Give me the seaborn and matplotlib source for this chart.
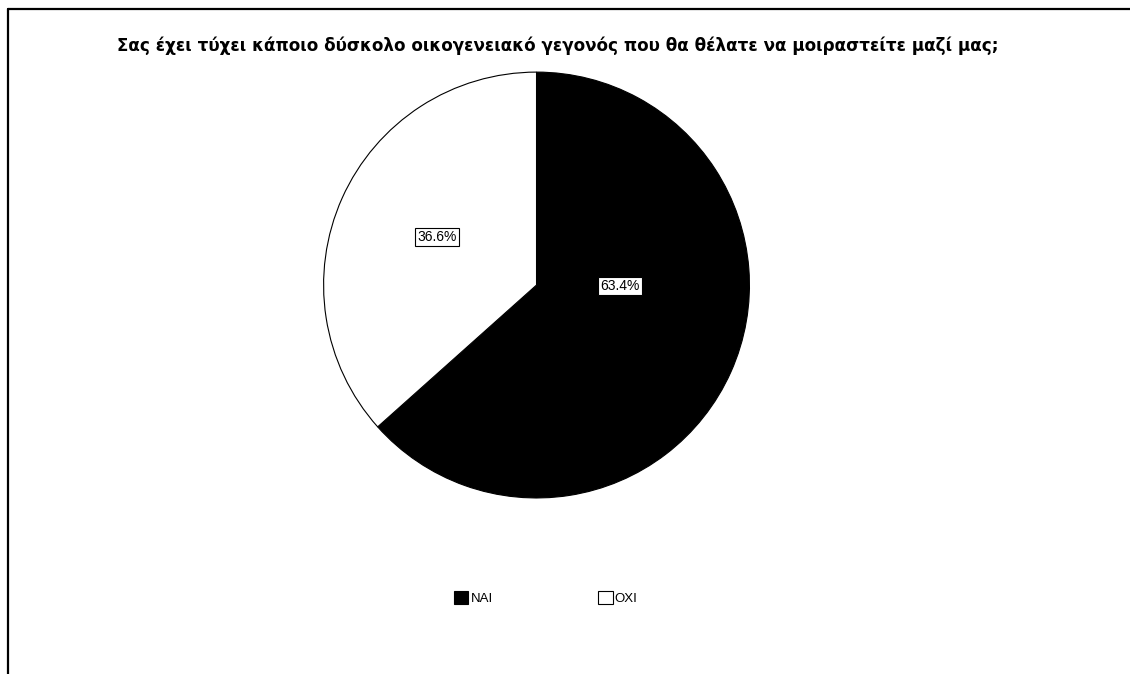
import matplotlib
matplotlib.use("Agg")
import matplotlib.pyplot as plt
import seaborn as sns
from matplotlib.lines import Line2D

# data
labels = ["ΝΑΙ", "ΟΧΙ"]
values = [63.4, 36.6]
colors = ["black", "white"]
title = "Σας έχει τύχει κάποιο δύσκολο οικογενειακό γεγονός που θα θέλατε να μοιραστείτε μαζί μας;"

sns.set_theme(style="white")
plt.rcParams["font.family"] = ["Liberation Sans", "DejaVu Sans"]
plt.rcParams["text.color"] = "black"

fig = plt.figure(figsize=(11.3, 6.74), dpi=100)
fig.patch.set_facecolor("white")

# pie axes: centre ~ (536, 285) px, radius ~214 px
ax = fig.add_axes([0.2854, 0.2596, 0.3788, 0.635])
wedges, texts, autotexts = ax.pie(
    values, colors=colors, startangle=90, counterclock=False,
    autopct="%.1f%%", pctdistance=0.5,
    wedgeprops=dict(edgecolor="black", linewidth=0.8),
    textprops=dict(fontsize=10, color="black"),
)
ax.set_xlim(-1.005, 1.005)
ax.set_ylim(-1.005, 1.005)
ax.set_aspect("equal")
ax.axis("off")

# label positions as in the original (boxed)
label_pos = [(0.393, -0.005), (-0.467, 0.224)]
for t, pos in zip(autotexts, label_pos):
    t.set_position(pos)
    t.set_ha("center")
    t.set_va("center")
    t.set_bbox(dict(facecolor="white", edgecolor="black", boxstyle="square,pad=0.15", linewidth=0.8))

fig.text(0.4934, 1 - 46 / 674, title, ha="center", va="center", fontsize=12.1,
         fontweight="bold", family="DejaVu Sans", color="black")

leg = fig.legend(wedges, labels, loc="center", bbox_to_anchor=(0.483, 1 - 598 / 674),
                 ncol=2, frameon=False, fontsize=9.5, handlelength=1.1, handleheight=1.1,
                 handletextpad=0.15, columnspacing=8.0, labelcolor="black")

# frame lines (top and left)
fig.add_artist(Line2D([8 / 1130, 1.0], [1 - 9 / 674, 1 - 9 / 674], transform=fig.transFigure,
                      color="black", linewidth=1.6))
fig.add_artist(Line2D([8 / 1130, 8 / 1130], [1 - 9 / 674, 0], transform=fig.transFigure,
                      color="black", linewidth=1.6))

fig.savefig("out.png", dpi=100)
